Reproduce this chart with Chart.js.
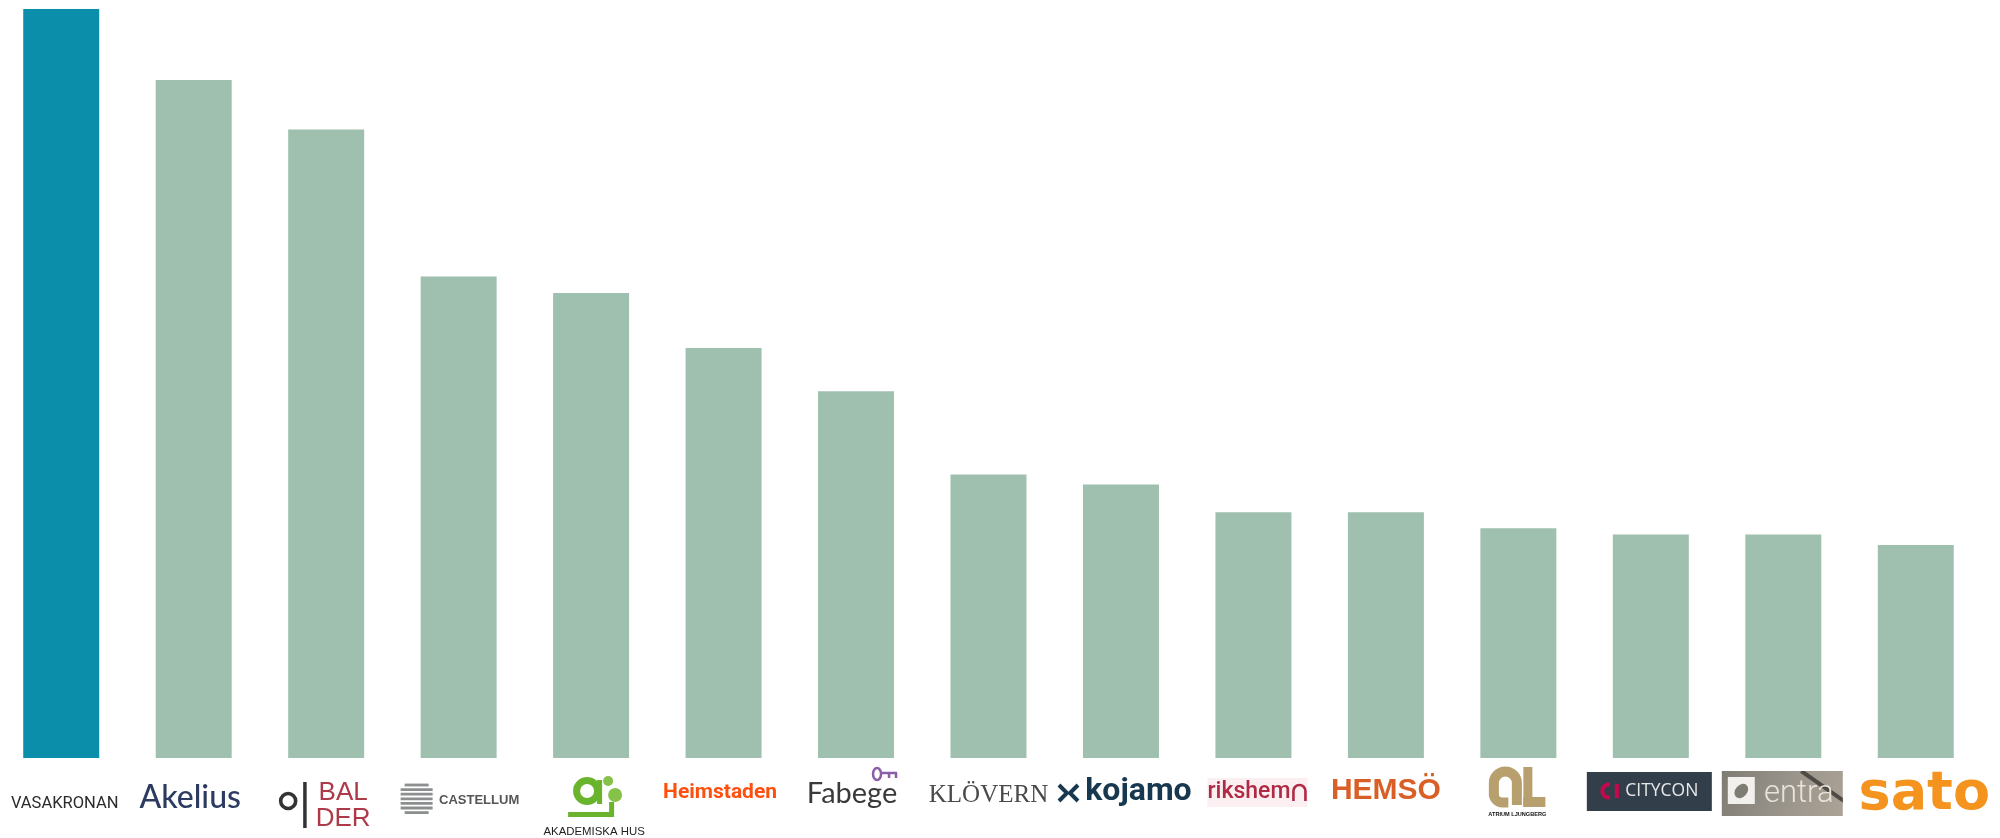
<!DOCTYPE html>
<html>
<head>
<meta charset="utf-8">
<style>
html,body{margin:0;padding:0;background:#fff;width:2000px;height:838px;overflow:hidden}
canvas{position:absolute;left:-5px;top:0}
</style>
<script src="https://cdn.jsdelivr.net/npm/chart.js@4"></script>
</head>
<body>
<canvas id="c" width="2005" height="838" style="width:2005px;height:838px"></canvas>
<script>
const categories = ["VASAKRONAN","Akelius",["BAL","DER"],"CASTELLUM","AKADEMISKA HUS","Heimstaden","Fabege","KLÖVERN","kojamo","rikshem","HEMSÖ","ATRIUM LJUNGBERG","CITYCON","entra","sato"];
const values = [135,122.2,113.3,86.8,83.8,73.9,66.1,51.1,49.3,44.3,44.3,41.4,40.3,40.3,38.4];
const accentColor = "#0A8EAA";
const baseColor = "#9FC0AE";

/* logo label styling, by tick index */
const labelFonts = [
  {family:"Roboto",size:16.5,weight:"400"},
  {family:"Lato",size:32,weight:"500"},
  {family:"'Liberation Sans'",size:26,weight:"400",lineHeight:"26px"},
  {family:"'Liberation Sans'",size:13,weight:"700"},
  {family:"'Liberation Sans'",size:11.4,weight:"400"},
  {family:"Roboto",size:21,weight:"700"},
  {family:"Lato",size:29,weight:"400"},
  {family:"'Liberation Serif'",size:25,weight:"400"},
  {family:"Roboto",size:32,weight:"700"},
  {family:"Roboto",size:23,weight:"500"},
  {family:"'Liberation Sans'",size:30,weight:"700"},
  {family:"'Liberation Sans'",size:5.6,weight:"700"},
  {family:"'Open Sans'",size:17.5,weight:"500"},
  {family:"Roboto",size:31,weight:"300"},
  {family:"'DejaVu Sans'",size:54,weight:"700"}
];
const labelColors = ["#2b2b2b","#2C3C60","#AD3A48","#555555","#222222","#FF4F0F","#3A3A3A","#4A4A4A","#17384F","#B12A45","#D95F26","#111111","#E6E8EA","#E8E4DC","#F4941F"];
const labelDx = [3.5,-3.5,17,20.5,3,-3.5,-4,0,17.5,-4.5,0,-1,11,15.5,8.5];
const labelDy = [46,40,48,42,74,35,36,37,34,34,33,56,33,36,37];

const logoLabels = {
  id:"logoLabels",
  beforeDraw(chart){
    const x = chart.scales.x, ctx = chart.ctx, B = chart.chartArea.bottom;
    const items = x.getLabelItems(chart.chartArea);
    items.forEach((it,i)=>{
      const lines = Array.isArray(it.label)?it.label.length:1;
      it.options.translation = [x.getPixelForTick(i)+labelDx[i], B+labelDy[i]];
      it.options.textAlign = "center";
      it.options.textBaseline = "middle";
      it.textOffset = -(lines-1)*it.font.lineHeight/2;
    });
    const px = i=>x.getPixelForTick(i);
    ctx.save();
    ctx.lineCap="butt";
    /* balder */
    let p=px(2);
    ctx.strokeStyle="#333"; ctx.lineWidth=3.6;
    ctx.beginPath(); ctx.arc(p-38,B+43,7.5,0,Math.PI*2); ctx.stroke();
    ctx.fillStyle="#333"; ctx.fillRect(p-23,B+24,3.5,46);
    /* castellum */
    p=px(3);
    ctx.strokeStyle="#8b8f90"; ctx.lineWidth=2.8;
    for(let k=0;k<7;k++){const y=B+27+k*4.6,w=k==0||k==6?12:16;ctx.beginPath();ctx.moveTo(p-42-w,y);ctx.lineTo(p-42+w,y);ctx.stroke();}
    /* akademiska hus */
    p=px(4);
    ctx.strokeStyle="#6AB42D"; ctx.fillStyle="#6AB42D"; ctx.lineWidth=7;
    ctx.beginPath(); ctx.arc(p-4,B+33,10.5,0,Math.PI*2); ctx.stroke();
    ctx.fillRect(p+6,B+22,5,24);
    ctx.fillRect(p-23,B+54,45,5);
    ctx.fillRect(p+18,B+44,5,15);
    ctx.fillStyle="#86C24A";
    ctx.beginPath(); ctx.arc(p+24,B+37,7,0,Math.PI*2); ctx.fill();
    ctx.beginPath(); ctx.arc(p+17,B+23,5,0,Math.PI*2); ctx.fill();
    /* fabege key */
    p=px(6);
    ctx.strokeStyle="#8A5FA8"; ctx.lineWidth=2.5;
    ctx.beginPath(); ctx.ellipse(p+21,B+16,4,6,0,0,Math.PI*2); ctx.stroke();
    ctx.beginPath(); ctx.moveTo(p+25,B+15); ctx.lineTo(p+41,B+15); ctx.moveTo(p+33,B+15); ctx.lineTo(p+33,B+20); ctx.moveTo(p+40,B+15); ctx.lineTo(p+40,B+20); ctx.stroke();
    /* kojamo mark */
    p=px(8);
    ctx.strokeStyle="#17384F"; ctx.lineWidth=4;
    ctx.beginPath(); ctx.moveTo(p-62,B+27); ctx.lineTo(p-54,B+35); ctx.lineTo(p-62,B+43); ctx.moveTo(p-43,B+27); ctx.lineTo(p-51,B+35); ctx.lineTo(p-43,B+43); ctx.stroke();
    /* rikshem */
    p=px(9);
    ctx.fillStyle="#FCEFF1"; ctx.fillRect(p-46,B+20,100,29);
    ctx.strokeStyle="#B12A45"; ctx.lineWidth=2.6;
    ctx.beginPath(); ctx.moveTo(p+40,B+43); ctx.lineTo(p+40,B+33); ctx.arc(p+46,B+33,6,Math.PI,0); ctx.lineTo(p+52,B+43); ctx.stroke();
    /* atrium ljungberg */
    p=px(11);
    ctx.strokeStyle="#B89F6E"; ctx.fillStyle="#B89F6E"; ctx.lineWidth=10;
    ctx.beginPath(); ctx.moveTo(p-24.5,B+38); ctx.lineTo(p-24.5,B+25); ctx.arc(p-13,B+25,11.5,Math.PI,0); ctx.lineTo(p-1.5,B+47); ctx.stroke();
    ctx.beginPath(); ctx.moveTo(p-24.5,B+36); ctx.arc(p-16,B+36,8.5,Math.PI,Math.PI*0.5,true); ctx.lineTo(p-10,B+44.5); ctx.stroke();
    ctx.fillRect(p+5,B+9,9,40);
    ctx.fillRect(p+5,B+39,22,10);
    /* citycon */
    p=px(12);
    ctx.fillStyle="#323F4B"; ctx.fillRect(p-64,B+14,125,39);
    ctx.strokeStyle="#C9074F"; ctx.lineWidth=4;
    ctx.beginPath(); ctx.arc(p-42,B+33,6.5,Math.PI*0.45,Math.PI*1.55); ctx.stroke();
    ctx.fillStyle="#C9074F"; ctx.fillRect(p-36,B+26,4,14);
    /* entra */
    p=px(13);
    const g=ctx.createLinearGradient(p-61,B+13,p+60,B+58);
    g.addColorStop(0,"#7F7C74"); g.addColorStop(0.5,"#98938A"); g.addColorStop(1,"#ADA396");
    ctx.fillStyle=g; ctx.fillRect(p-61.5,B+13,121,45);
    ctx.save();
    ctx.beginPath(); ctx.rect(p-61.5,B+13,121,45); ctx.clip();
    ctx.strokeStyle="#4E4A45"; ctx.lineWidth=4;
    ctx.beginPath(); ctx.moveTo(p+18,B+13); ctx.lineTo(p+62,B+44); ctx.stroke();
    ctx.restore();
    ctx.fillStyle="#F1F0EC"; ctx.fillRect(p-55.5,B+19,27,27);
    ctx.fillStyle="#7F7C74"; ctx.beginPath(); ctx.ellipse(p-42,B+33,6,8,0.7,0,Math.PI*2); ctx.fill();
    ctx.restore();
  }
};

new Chart(document.getElementById("c"),{
  type:"bar",
  data:{labels:categories,datasets:[{
    data:values,
    backgroundColor:values.map((v,i)=>i===0?accentColor:baseColor),
    borderWidth:0,
    barPercentage:0.5736,
    categoryPercentage:1
  }]},
  plugins:[logoLabels],
  options:{
    responsive:false,
    animation:false,
    devicePixelRatio:1,
    layout:{padding:{top:9,left:0,right:18,bottom:0}},
    plugins:{legend:{display:false},title:{display:false},tooltip:{enabled:false}},
    scales:{
      x:{
        grid:{display:false},border:{display:false},
        afterFit(s){s.height=80;s.paddingLeft=0;s.paddingRight=0;},
        ticks:{
          autoSkip:false,maxRotation:0,minRotation:0,
          font:c=>labelFonts[c.index],
          color:c=>labelColors[c.index]
        }
      },
      y:{display:false,min:0,max:135}
    }
  }
});
</script>
</body>
</html>
